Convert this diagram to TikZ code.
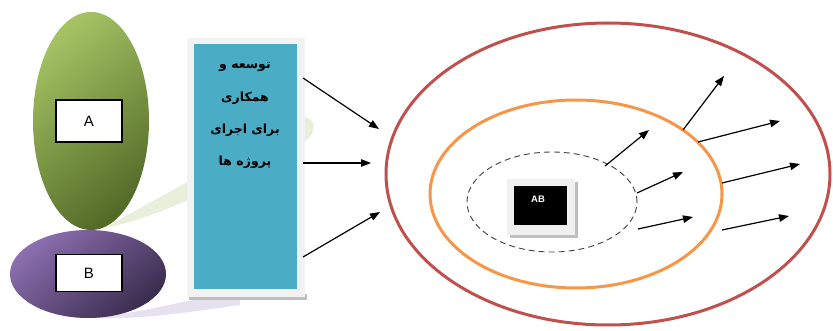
\documentclass[tikz,border=0pt]{standalone}
\usepackage{fontspec}
\setmainfont{Liberation Sans}
\newfontfamily\arabicfont[Script=Arabic]{DejaVu Sans}
\TeXXeTstate=1
\usetikzlibrary{arrows.meta,shapes.geometric}

\definecolor{leafhi}{HTML}{A4C263}
\definecolor{leaflo}{HTML}{546B28}
\definecolor{plumhi}{HTML}{8C6FB0}
\definecolor{plumlo}{HTML}{3A2C4E}
\definecolor{leafhaze}{HTML}{E8EFDB}
\definecolor{plumhaze}{HTML}{E6E1EE}
\definecolor{panel}{HTML}{4BACC6}
\definecolor{ringred}{HTML}{C0504D}
\definecolor{ringorange}{HTML}{F79646}

\tikzset{
  labelbox/.style={draw=black, line width=1.2pt, fill=white, minimum width=66pt,
                   minimum height=42pt, inner sep=0pt, font=\fontsize{15}{16}\selectfont},
  faline/.style={font=\arabicfont\bfseries\fontsize{12.5}{14}\selectfont, inner sep=0pt},
  flow/.style={line width=1.2pt, -{Triangle[length=10pt,width=7.5pt]}},
  ring/.style={ellipse, inner sep=0pt},
  glossy/.style 2 args={top color=#1, bottom color=#2, shading angle=40},
}

\begin{document}
\begin{tikzpicture}[x=1pt,y=-1pt]
\useasboundingbox (0,0) rectangle (833,331);

% soft reflections behind the two ellipses
\fill[leafhaze] (105,228) .. controls (170,190) and (250,150) .. (300,118)
   .. controls (318,112) and (318,140) .. (300,142)
   .. controls (240,175) and (170,215) .. (105,228) -- cycle;
\fill[plumhaze] (90,318) .. controls (150,312) and (200,296) .. (240,292)
   -- (240,305) .. controls (190,312) and (140,320) .. (90,318) -- cycle;

% the two coloured ellipses with their labels
\node[ring, minimum width=116pt, minimum height=218pt, glossy={leafhi}{leaflo}] (green) at (91,121) {};
\node[ring, minimum width=156pt, minimum height=88pt, glossy={plumhi}{plumlo}] (purple) at (88,274) {};
\node[labelbox] (A) at (89,121) {A};
\node[labelbox, minimum height=37pt] (B) at (89,273) {B};

% framed blue panel
\fill[black!25] (189,294) rectangle (307,300);
\node[fill=black!5, minimum width=118pt, minimum height=259pt, inner sep=0pt] (frame) at (246,167.5) {};
\node[fill=panel, minimum width=103pt, minimum height=245pt, inner sep=0pt] (panel) at (245.5,166.5) {};
\node[faline] (t1) at (245,67) {\beginR توسعه و\endR};
\node[faline] (t2) at (245,98) {\beginR همکاری\endR};
\node[faline] (t3) at (245,130) {\beginR برای اجرای\endR};
\node[faline] (t4) at (245,162) {\beginR پروژه ها\endR};

% nested rings
\node[ring, draw=ringred, line width=3pt, minimum width=444pt, minimum height=302pt] (outer) at (608,174) {};
\node[ring, draw=ringorange, line width=3pt, minimum width=292pt, minimum height=188pt] (middle) at (576,194) {};
\node[ring, draw=black!75, dash pattern=on 6pt off 4pt, line width=0.9pt, minimum width=170pt, minimum height=100pt] (core) at (552,202) {};

% centre badge
\fill[black!25] (510,182) rectangle (578,238);
\node[fill=black!6, minimum width=68pt, minimum height=56pt, inner sep=0pt] (badgeframe) at (541,207) {};
\node[fill=black, minimum width=53pt, minimum height=39pt, inner sep=0pt] (badge) at (540.5,205.5) {};
\node[text=white, font=\bfseries\fontsize{9.5}{10}\selectfont, inner sep=0pt] (AB) at (538,199) {AB};

% arrows out of the panel
\coordinate (p1) at (303,78);   \coordinate (q1) at (379,129);
\coordinate (p2) at (303,163);  \coordinate (q2) at (371,163);
\coordinate (p3) at (303,257);  \coordinate (q3) at (380,212);
\draw[flow] (p1) -- (q1);
\draw[flow] (p2) -- (q2);
\draw[flow] (p3) -- (q3);

% arrows leaving the core
\coordinate (c1) at (605,166);  \coordinate (d1) at (649,130);
\coordinate (c2) at (637,193);  \coordinate (d2) at (683,172);
\coordinate (c3) at (638,229);  \coordinate (d3) at (693,217);
\draw[flow] (c1) -- (d1);
\draw[flow] (c2) -- (d2);
\draw[flow] (c3) -- (d3);

% arrows leaving the middle ring
\coordinate (m1) at (683,130);  \coordinate (n1) at (724,76);
\coordinate (m2) at (698,142);  \coordinate (n2) at (780,121);
\coordinate (m3) at (722,183);  \coordinate (n3) at (800,164);
\coordinate (m4) at (722,230);  \coordinate (n4) at (789,216);
\draw[flow] (m1) -- (n1);
\draw[flow] (m2) -- (n2);
\draw[flow] (m3) -- (n3);
\draw[flow] (m4) -- (n4);
\end{tikzpicture}
\end{document}
